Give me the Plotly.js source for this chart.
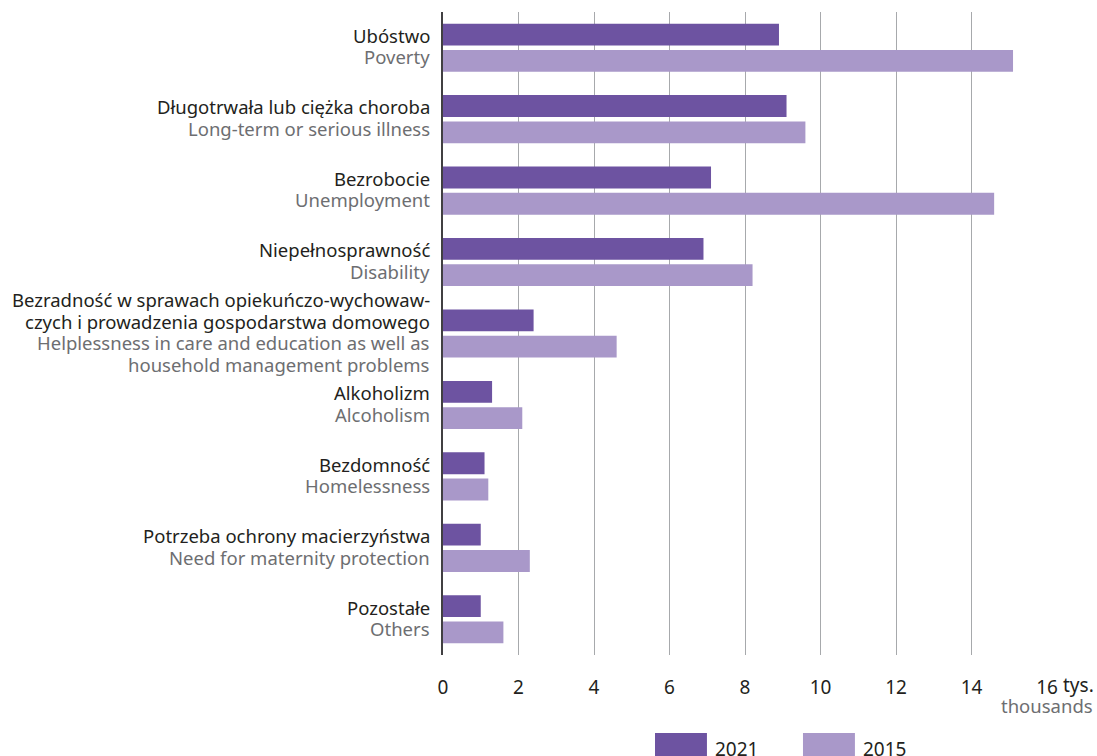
<!DOCTYPE html>
<html>
<head>
<meta charset="utf-8">
<script src="https://cdn.plot.ly/plotly-3.0.1.min.js"></script>
<style>
html,body{margin:0;padding:0;background:#fff;}
#chart{width:1097px;height:756px;}
</style>
</head>
<body>
<div id="chart"></div>
<script>
// Category labels (Polish / English); "|" splits a label into lines
const labelsPL = [
  "Ubóstwo",
  "Długotrwała lub ciężka choroba",
  "Bezrobocie",
  "Niepełnosprawność",
  "Bezradność w sprawach opiekuńczo-wychowaw-|czych i prowadzenia gospodarstwa domowego",
  "Alkoholizm",
  "Bezdomność",
  "Potrzeba ochrony macierzyństwa",
  "Pozostałe"
];
const labelsEN = [
  "Poverty",
  "Long-term or serious illness",
  "Unemployment",
  "Disability",
  "Helplessness in care and education as well as|household management problems",
  "Alcoholism",
  "Homelessness",
  "Need for maternity protection",
  "Others"
];
// Values in thousands
const values2021 = [8.9, 9.1, 7.1, 6.9, 2.4, 1.3, 1.1, 1.0, 1.0];
const values2015 = [15.1, 9.6, 14.6, 8.2, 4.6, 2.1, 1.2, 2.3, 1.6];
const xTicks = [0, 2, 4, 6, 8, 10, 12, 14, 16];
const seriesNames = ["2021", "2015"];

const colDark = "#6d53a1";
const colLight = "#a998c9";
const colText = "#231f20";
const colGray = "#6d6e71";
const FONT = "Noto Sans, Open Sans, sans-serif";
const LBL_SIZE = 18.5;
const LINE_H = 21.5;

const cats = labelsPL.map((p, i) => "c" + i);

const traces = [
  {type: "bar", orientation: "h", name: seriesNames[0], y: cats, x: values2021,
   marker: {color: colDark, line: {width: 0}}, hoverinfo: "x"},
  {type: "bar", orientation: "h", name: seriesNames[1], y: cats, x: values2015,
   marker: {color: colLight, line: {width: 0}}, hoverinfo: "x"}
];

// Category label annotations, one per line for tight line spacing
const labelAnns = [];
cats.forEach((c, i) => {
  const lines = labelsPL[i].split("|").map(t => ({t, col: colText}))
    .concat(labelsEN[i].split("|").map(t => ({t, col: colGray})));
  const n = lines.length;
  lines.forEach((ln, k) => {
    labelAnns.push({
      xref: "paper", yref: "y", x: 0, y: c,
      xanchor: "right", yanchor: "middle", xshift: -11,
      yshift: -(k - (n - 1) / 2) * LINE_H + 1.5,
      text: ln.t, showarrow: false,
      font: {family: FONT, size: LBL_SIZE, color: ln.col}
    });
  });
});

const legendShapes = [
  {type: "rect", xref: "paper", yref: "paper", x0: 0.351, x1: 0.437, y0: -0.1213, y1: -0.17, fillcolor: colDark, line: {width: 0}},
  {type: "rect", xref: "paper", yref: "paper", x0: 0.596, x1: 0.682, y0: -0.1213, y1: -0.17, fillcolor: colLight, line: {width: 0}}
];

const layout = {
  width: 1097, height: 756,
  margin: {l: 443, r: 50, t: 12, b: 101},
  paper_bgcolor: "#fff", plot_bgcolor: "#fff",
  font: {family: FONT, size: 16, color: colText},
  showlegend: false,
  barmode: "group",
  bargap: 0.264,
  bargroupgap: 0.17,
  xaxis: {
    range: [0, 16],
    tickvals: xTicks,
    ticktext: xTicks.map(String),
    showgrid: true, gridcolor: "#a7a9ac", gridwidth: 1,
    zeroline: false, showline: false,
    ticks: "", ticklabelstandoff: 19,
    tickfont: {family: FONT, size: 19, color: colText},
    fixedrange: true
  },
  yaxis: {
    type: "category",
    autorange: "reversed",
    showticklabels: false,
    showgrid: false, zeroline: false,
    showline: true, linecolor: "#414042", linewidth: 2,
    ticks: "",
    fixedrange: true
  },
  shapes: legendShapes,
  annotations: labelAnns.concat([
    {xref: "x", yref: "paper", x: 16, y: -0.0482, xanchor: "left", yanchor: "middle", xshift: 14, yshift: 1,
     text: "tys.", showarrow: false, font: {family: FONT, size: 19, color: colText}},
    {xref: "paper", yref: "paper", x: 1.0795, y: -0.0731, xanchor: "right", yanchor: "middle", yshift: -3,
     text: "thousands", showarrow: false, font: {family: FONT, size: 18.5, color: colGray}},
    {xref: "paper", yref: "paper", x: 0.447, y: -0.146, xanchor: "left", yanchor: "middle",
     text: seriesNames[0], showarrow: false, font: {family: FONT, size: 19, color: colText}},
    {xref: "paper", yref: "paper", x: 0.692, y: -0.146, xanchor: "left", yanchor: "middle",
     text: seriesNames[1], showarrow: false, font: {family: FONT, size: 19, color: colText}}
  ])
};

Plotly.newPlot("chart", traces, layout, {displayModeBar: false, staticPlot: true});
</script>
</body>
</html>
